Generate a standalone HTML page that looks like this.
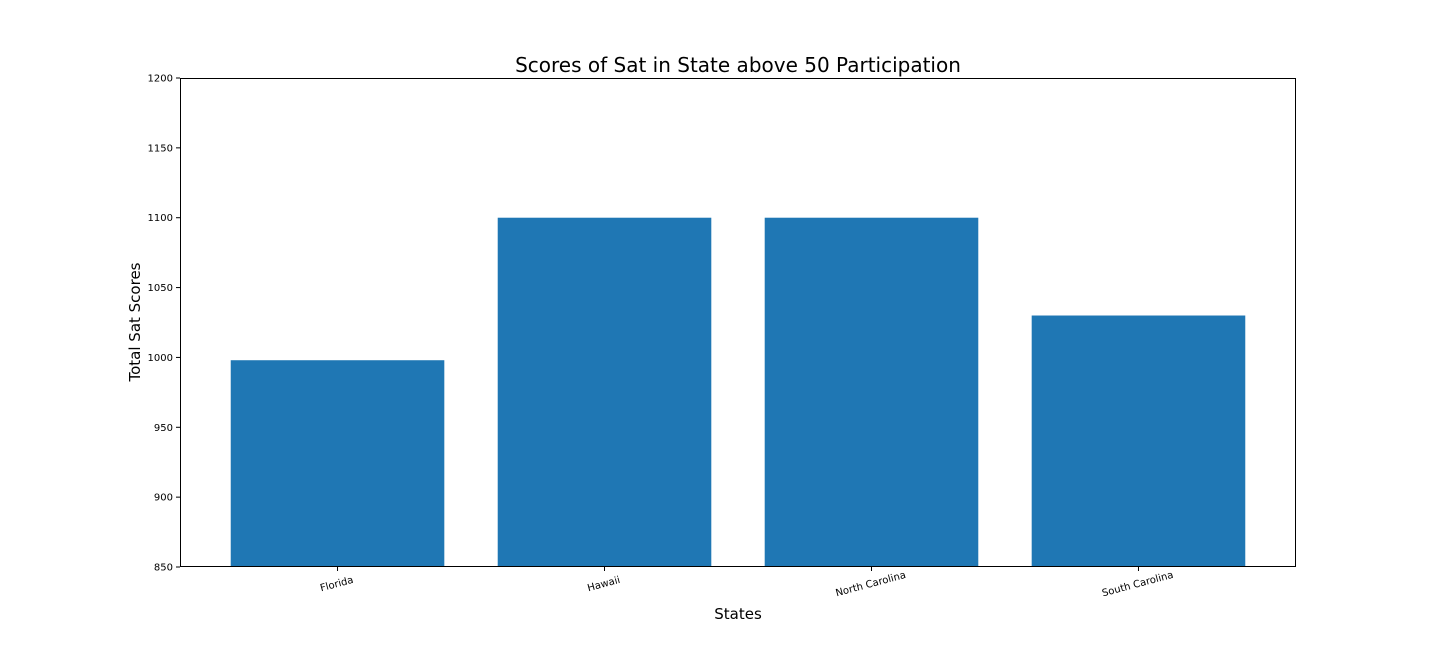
<!DOCTYPE html>
<html><head><meta charset="utf-8"><style>
body{margin:0;background:#fff;width:1440px;height:648px;overflow:hidden}
text{font-family:"DejaVu Sans","Liberation Sans",sans-serif}
</style></head><body>
<svg id="chart" width="1440" height="648" xmlns="http://www.w3.org/2000/svg">
<text x="738" y="72" font-size="20" text-anchor="middle">Scores of Sat in State above 50 Participation</text>
<text x="738" y="619" font-size="15" text-anchor="middle">States</text>
<text transform="translate(140,322) rotate(-90)" font-size="15" text-anchor="middle">Total Sat Scores</text>
</svg>
<script>
const categories=["Florida","Hawaii","North Carolina","South Carolina"];
const scores=[998,1100,1100,1030];
const yTicks=[850,900,950,1000,1050,1100,1150,1200];
const L=180,R=1296,T=78,B=567,yMin=850,yMax=1200,xMin=-0.59,xMax=3.59;
const svg=document.getElementById('chart');
const NS="http://www.w3.org/2000/svg";
const y=v=>B-(v-yMin)/(yMax-yMin)*(B-T);
const x=i=>L+(i-xMin)/(xMax-xMin)*(R-L);
function mk(t,a){const e=document.createElementNS(NS,t);for(const k in a)e.setAttribute(k,a[k]);svg.appendChild(e);return e;}
const bw=x(0.8)-x(0);
categories.forEach((c,i)=>{
  const r=mk('rect',{x:x(i)-bw/2,y:y(scores[i]),width:bw,height:B-y(scores[i]),fill:'#1f77b4'});
  
  
  const tk=mk('line',{x1:x(i),x2:x(i),y1:B,y2:B+4,stroke:'#000','stroke-width':1});
  
  
  const t=mk('text',{transform:`translate(${x(i)},${B+20}) rotate(-15)`,'font-size':10,'text-anchor':'middle'});
  t.textContent=c;
  
  
});
yTicks.forEach(v=>{
  const tk=mk('line',{x1:L-4,x2:L,y1:y(v),y2:y(v),stroke:'#000','stroke-width':1});
  
  
  const t=mk('text',{x:L-7,y:y(v)+3.5,'font-size':10,'text-anchor':'end'});
  t.textContent=v;
  
  
});
const f=mk('rect',{x:L+0.5,y:T+0.5,width:R-L-1,height:B-T-1,fill:'none',stroke:'#000','stroke-width':1});


</script>
</body></html>
